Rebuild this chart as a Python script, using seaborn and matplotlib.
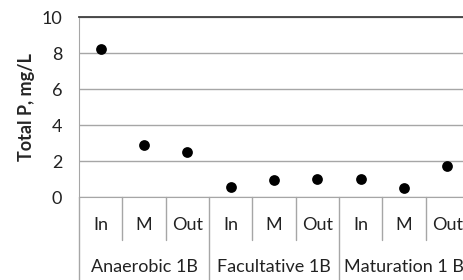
import pandas as pd
import matplotlib.pyplot as plt
import seaborn as sns
from matplotlib.transforms import blended_transform_factory

# ------------------------------------------------------------
# Daten
# ------------------------------------------------------------
groups = ["Anaerobic 1B", "Facultative 1B", "Maturation 1 B"]
stages = ["In", "M", "Out"]
total_p = [8.2, 2.9, 2.5, 0.55, 0.95, 1.0, 1.0, 0.5, 1.7]

rows = []
for gi, g in enumerate(groups):
    for si, s in enumerate(stages):
        rows.append({"group": g, "stage": s, "pos": gi * len(stages) + si})
df = pd.DataFrame(rows)
df["total_p"] = total_p

FONT = "Lato"
GRID = "#a6a6a6"
FS = 13

sns.set_style("white")
plt.rcParams["font.family"] = [FONT, "DejaVu Sans"]

fig = plt.figure(figsize=(4.64, 2.80), dpi=100)
ax = fig.add_axes([79 / 464, 83 / 280, 390 / 464, 180 / 280])

sns.scatterplot(data=df, x="pos", y="total_p", ax=ax, color="black",
                s=60, edgecolor="black", linewidth=0, zorder=3, legend=False)

n = len(df)
ax.set_xlim(-0.5, n - 0.5)
ax.set_ylim(0, 10)
ax.set_yticks(range(0, 11, 2))
ax.yaxis.grid(True, color=GRID, linewidth=1)
ax.set_axisbelow(True)
ax.tick_params(axis="y", length=5, color=GRID, labelsize=FS, pad=7,
               labelcolor="#222222")
ax.set_xticks([])
ax.set_xlabel("")
ax.set_ylabel("Total P, mg/L", fontsize=FS, fontweight="bold", labelpad=5)

ax.spines["right"].set_visible(False)
ax.spines["top"].set_color("#404040")
ax.spines["top"].set_linewidth(1.3)
ax.spines["left"].set_color(GRID)
ax.spines["bottom"].set_color(GRID)

# ------------------------------------------------------------
# Zweistufige Kategorie-Achse
# ------------------------------------------------------------
trans = blended_transform_factory(ax.transData, ax.transAxes)
inner_bottom = -43 / 180
outer_bottom = -83 / 180
for i in range(1, n):
    y1 = outer_bottom if i % len(stages) == 0 else inner_bottom
    ax.plot([i - 0.5, i - 0.5], [0, y1], color=GRID, linewidth=1,
            transform=trans, clip_on=False)
ax.plot([-0.5, -0.5], [0, outer_bottom], color=GRID, linewidth=1,
        transform=trans, clip_on=False)

for _, r in df.iterrows():
    ax.text(r["pos"], -28 / 180, r["stage"], transform=trans, ha="center",
            va="center", fontsize=FS, color="#222222", clip_on=False)
for gi, g in enumerate(groups):
    ax.text(gi * len(stages) + 1, -70 / 180, g, transform=trans, ha="center",
            va="center", fontsize=FS, color="#222222", clip_on=False)

fig.savefig("out.png", dpi=100)
